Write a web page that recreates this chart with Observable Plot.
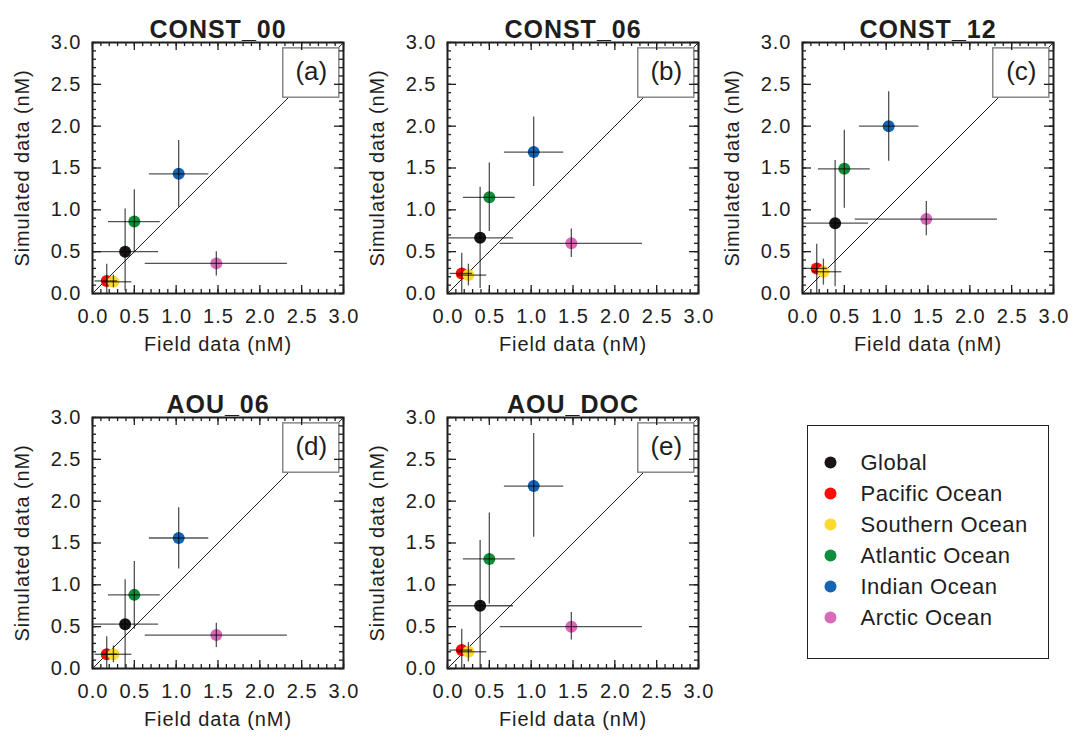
<!DOCTYPE html>
<html><head><meta charset="utf-8">
<script src="https://cdn.jsdelivr.net/npm/d3@7"></script>
<script src="https://cdn.jsdelivr.net/npm/@observablehq/plot@0.6"></script>
<style>
body{margin:0;background:#fff;}
#wrap{position:relative;width:1073px;height:738px;background:#fff;font-family:"Liberation Sans",Arial,sans-serif;}
.panel{position:absolute;}
.panel svg{overflow:visible;}
#legend{position:absolute;left:807px;top:425px;width:240px;height:232px;border:1.5px solid #222;background:#fff;}
g[aria-label="x-axis tick label"] text, g[aria-label="y-axis tick label"] text{letter-spacing:1px;}
</style></head><body><div id="wrap"></div>
<script>
// ---- data ----
const regions = ["Global", "Pacific Ocean", "Southern Ocean", "Atlantic Ocean", "Indian Ocean", "Arctic Ocean"];
const regionColors = ["#1a1414", "#ff0a0a", "#ffd92e", "#0f8f3a", "#1563b3", "#d86ab8"];

const experiments = ["CONST_00", "CONST_06", "CONST_12", "AOU_06", "AOU_DOC"];
const panelLabels = ["(a)", "(b)", "(c)", "(d)", "(e)"];

// field observations (x) : mean and range
const fieldMean = [0.39, 0.17, 0.25, 0.50, 1.03, 1.48];
const fieldLow  = [0.00, 0.03, 0.12, 0.19, 0.68, 0.63];
const fieldHigh = [0.79, 0.30, 0.47, 0.81, 1.39, 2.33];

// simulated (y) : mean, low, high per experiment
const simMean_CONST_00 = [0.50, 0.15, 0.14, 0.86, 1.43, 0.36];
const simLow_CONST_00  = [0.03, 0.00, 0.07, 0.49, 1.03, 0.21];
const simHigh_CONST_00 = [1.01, 0.35, 0.22, 1.24, 1.83, 0.50];

const simMean_CONST_06 = [0.665, 0.24, 0.22, 1.15, 1.69, 0.60];
const simLow_CONST_06  = [0.06, 0.00, 0.09, 0.74, 1.28, 0.43];
const simHigh_CONST_06 = [1.27, 0.48, 0.35, 1.56, 2.11, 0.77];

const simMean_CONST_12 = [0.84, 0.30, 0.26, 1.49, 2.00, 0.89];
const simLow_CONST_12  = [0.08, 0.00, 0.10, 1.02, 1.58, 0.69];
const simHigh_CONST_12 = [1.59, 0.59, 0.41, 1.95, 2.41, 1.10];

const simMean_AOU_06 = [0.53, 0.17, 0.17, 0.88, 1.56, 0.40];
const simLow_AOU_06  = [0.00, 0.00, 0.07, 0.47, 1.19, 0.25];
const simHigh_AOU_06 = [1.06, 0.38, 0.27, 1.28, 1.92, 0.54];

const simMean_AOU_DOC = [0.75, 0.22, 0.20, 1.31, 2.18, 0.50];
const simLow_AOU_DOC  = [0.00, 0.00, 0.08, 0.77, 1.57, 0.34];
const simHigh_AOU_DOC = [1.53, 0.47, 0.31, 1.86, 2.81, 0.67];

const simMeans = [simMean_CONST_00, simMean_CONST_06, simMean_CONST_12, simMean_AOU_06, simMean_AOU_DOC];
const simLows  = [simLow_CONST_00, simLow_CONST_06, simLow_CONST_12, simLow_AOU_06, simLow_AOU_DOC];
const simHighs = [simHigh_CONST_00, simHigh_CONST_06, simHigh_CONST_12, simHigh_AOU_06, simHigh_AOU_DOC];

const axisDomain = [0, 3];
const majorTicks = [0, 0.5, 1.0, 1.5, 2.0, 2.5, 3.0];
const minorTicks = d3.range(0, 31).map(i => i / 10);
const oneToOne = [0, 3];
const labelBoxX = [2.28, 2.95];
const labelBoxY = [2.34, 2.93];

// ---- layout ----
const W = 355, H = 370, ML = 92, MR = 12, MT = 42, MB = 77;
const FW = W - ML - MR;
const positions = [[0, 0], [355, 0], [710, 0], [0, 375], [355, 375]];
const ink = "#1e1e1e";
const wrap = document.getElementById("wrap");

function makePanel(i) {
  const rows = regions.map((r, k) => ({
    region: r, x: fieldMean[k], xlo: fieldLow[k], xhi: fieldHigh[k],
    y: simMeans[i][k], ylo: simLows[i][k], yhi: simHighs[i][k]
  }));
  const box = [{x1: labelBoxX[0], x2: labelBoxX[1], y1: labelBoxY[0], y2: labelBoxY[1], label: panelLabels[i]}];
  const err = {stroke: "#000", strokeOpacity: 0.68, strokeWidth: 1.3};
  const tickStyle = {stroke: ink, strokeWidth: 1.3};
  const plot = Plot.plot({
    width: W, height: H,
    marginLeft: ML, marginRight: MR, marginTop: MT, marginBottom: MB,
    style: {fontFamily: '"Liberation Sans", Arial, sans-serif', fontSize: "20px", color: ink, background: "transparent", overflow: "visible"},
    x: {domain: axisDomain},
    y: {domain: axisDomain},
    color: {domain: regions, range: regionColors},
    marks: [
      Plot.line(oneToOne, {x: d => d, y: d => d, stroke: ink, strokeWidth: 1}),
      Plot.dot(rows, {x: "x", y: "y", r: 6, fill: "region"}),
      Plot.ruleY(rows, {y: "y", x1: "xlo", x2: "xhi", ...err}),
      Plot.ruleX(rows, {x: "x", y1: "ylo", y2: "yhi", ...err}),
      Plot.rect(box, {x1: "x1", x2: "x2", y1: "y1", y2: "y2", fill: "white", stroke: "#888", strokeWidth: 1.5}),
      Plot.text(box, {x: d => (d.x1 + d.x2) / 2, y: d => (d.y1 + d.y2) / 2, text: "label", fontSize: 26, fill: ink, dy: -1}),
      // inward ticks on all four sides
      Plot.ruleX(minorTicks, {x: d => d, insetTop: FW - 4, ...tickStyle}),
      Plot.ruleX(minorTicks, {x: d => d, insetBottom: FW - 4, ...tickStyle}),
      Plot.ruleY(minorTicks, {y: d => d, insetRight: FW - 4, ...tickStyle}),
      Plot.ruleY(minorTicks, {y: d => d, insetLeft: FW - 4, ...tickStyle}),
      Plot.ruleX(majorTicks, {x: d => d, insetTop: FW - 8, ...tickStyle}),
      Plot.ruleX(majorTicks, {x: d => d, insetBottom: FW - 8, ...tickStyle}),
      Plot.ruleY(majorTicks, {y: d => d, insetRight: FW - 9, ...tickStyle}),
      Plot.ruleY(majorTicks, {y: d => d, insetLeft: FW - 9, ...tickStyle}),
      Plot.frame({stroke: ink, strokeWidth: 2}),
      Plot.axisX({ticks: majorTicks, tickSize: 0, tickPadding: 15, tickFormat: d3.format(".1f"), label: null, dx: 0.5}),
      Plot.axisY({ticks: majorTicks, tickSize: 0, tickPadding: 12, tickFormat: d3.format(".1f"), label: null, dx: 1}),
      Plot.text([experiments[i]], {frameAnchor: "top", dy: -22, text: d => d, fontSize: 25, fontWeight: "bold", fill: ink}),
      Plot.text(["Field data (nM)"], {frameAnchor: "bottom", dy: 57, text: d => d, fontSize: 20, fill: ink}),
      Plot.text(["Simulated data (nM)"], {frameAnchor: "left", dx: -70, rotate: -90, textAnchor: "middle", text: d => d, fontSize: 20, fill: ink})
    ]
  });
  plot.querySelectorAll("text").forEach(t => {
    const s = t.textContent;
    if (s === experiments[i]) t.style.letterSpacing = "1px";
    if (s === "Field data (nM)" || s === "Simulated data (nM)") t.style.letterSpacing = "0.9px";
  });
  const div = document.createElement("div");
  div.className = "panel";
  div.style.left = positions[i][0] + "px";
  div.style.top = positions[i][1] + "px";
  div.appendChild(plot);
  wrap.appendChild(div);
}
experiments.forEach((e, i) => makePanel(i));

// ---- legend ----
const legendDiv = document.createElement("div");
legendDiv.id = "legend";
const legend = Plot.plot({
  width: 240, height: 232,
  marginLeft: 22, marginRight: 0, marginTop: 34, marginBottom: 40,
  style: {fontFamily: '"Liberation Sans", Arial, sans-serif', background: "transparent", color: ink},
  x: {domain: [0, 1], axis: null},
  y: {type: "point", domain: regions, axis: null, padding: 0},
  color: {domain: regions, range: regionColors},
  marks: [
    Plot.dot(regions, {x: () => 0, y: d => d, fill: d => d, r: 6}),
    Plot.text(regions, {x: () => 0, y: d => d, text: d => d, dx: 30, textAnchor: "start", fontSize: 22, fill: ink})
  ]
});
legend.querySelectorAll("text").forEach(t => t.style.letterSpacing = "0.5px");
legendDiv.appendChild(legend);
wrap.appendChild(legendDiv);
</script>
</body></html>
